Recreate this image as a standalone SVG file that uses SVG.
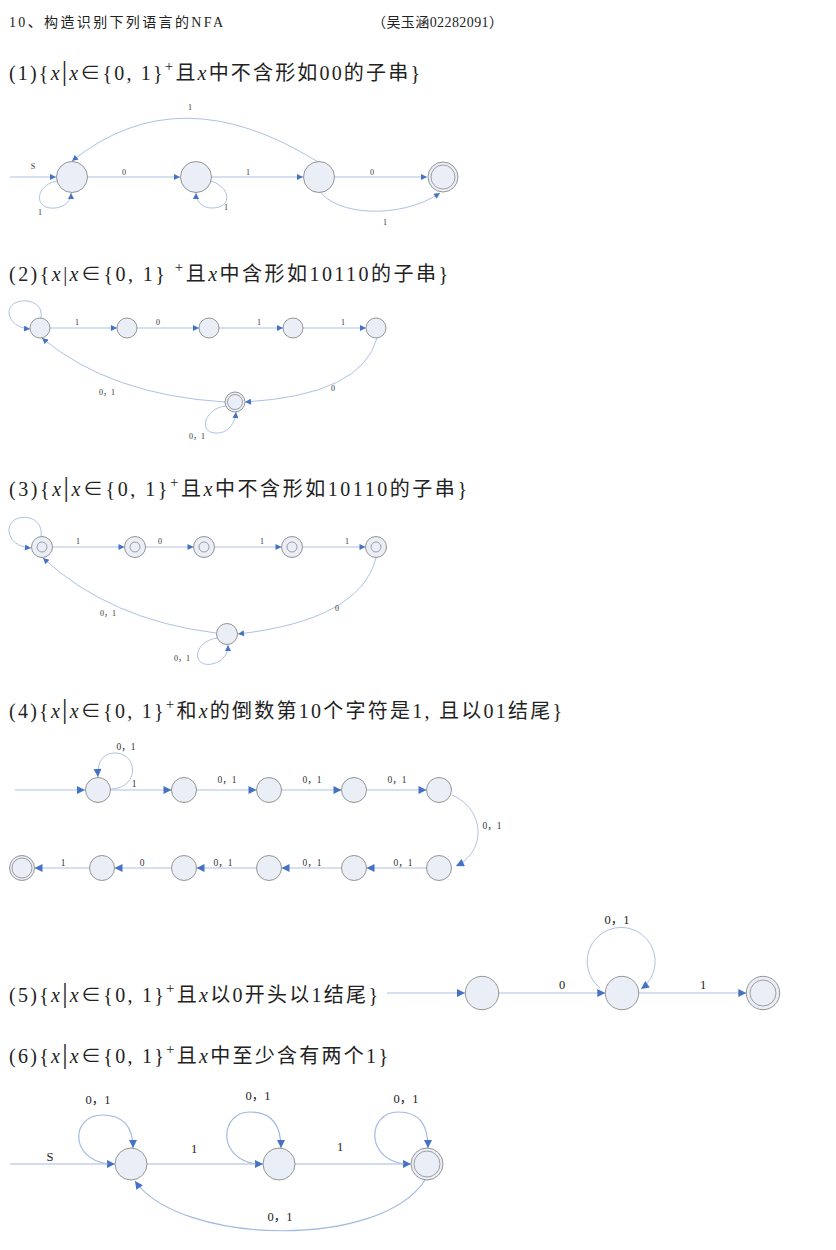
<svg xmlns="http://www.w3.org/2000/svg" width="836" height="1250" viewBox="0 0 836 1250">
<defs>
<style>
.bg{fill:#ffffff}
.n{fill:#e9eef7;stroke:#8a8a8a;stroke-width:0.9}
.ni{fill:none;stroke:#8a8a8a;stroke-width:0.8}
.e{fill:none;stroke:#adc1e4;stroke-width:1}
.e6{fill:none;stroke:#a3b9df;stroke-width:1.2}
.hd{font-family:"Liberation Serif","Noto Sans CJK SC",serif;font-size:14px;fill:#222}
.tt{font-family:"Liberation Serif","Noto Sans CJK SC",serif;font-size:20px;fill:#222}
.it{font-style:italic}
.bar{font-size:27px}
.s{font-family:"Liberation Serif","Noto Sans CJK SC",serif;font-size:8px;fill:#333;text-anchor:middle}
.m{font-family:"Liberation Serif","Noto Sans CJK SC",serif;font-size:9.5px;fill:#333;text-anchor:middle}
.l{font-family:"Liberation Serif","Noto Sans CJK SC",serif;font-size:12.5px;fill:#222;text-anchor:middle}
</style>
<marker id="as" viewBox="0 0 10 10" refX="10" refY="5" markerWidth="7" markerHeight="6" markerUnits="userSpaceOnUse" orient="auto"><path d="M0,0 L10,5 L0,10 z" fill="#4472c4"/></marker>
<marker id="al" viewBox="0 0 10 10" refX="10" refY="5" markerWidth="9" markerHeight="8" markerUnits="userSpaceOnUse" orient="auto"><path d="M0,0 L10,5 L0,10 z" fill="#4472c4"/></marker>
</defs>
<rect class="bg" x="0" y="0" width="836" height="1250"/>

<g id="header">
<text class="hd" x="9" y="27" textLength="214" lengthAdjust="spacing">10、构造识别下列语言的NFA</text>
<text class="hd" x="372" y="27" textLength="131" lengthAdjust="spacing">（吴玉涵02282091）</text>
</g>

<g id="titles">
<text class="tt" x="9" y="80" textLength="411" lengthAdjust="spacing">(1){<tspan class="it">x</tspan><tspan class="bar">|</tspan><tspan class="it">x</tspan>∈{0, 1}<tspan dy="-9" font-size="15">+</tspan><tspan dy="9">且</tspan><tspan class="it">x</tspan>中不含形如00的子串}</text>
<text class="tt" x="9" y="281" textLength="439" lengthAdjust="spacing">(2){<tspan class="it">x</tspan>|<tspan class="it">x</tspan>∈{0, 1} <tspan dy="-9" font-size="15">+</tspan><tspan dy="9">且</tspan><tspan class="it">x</tspan>中含形如10110的子串}</text>
<text class="tt" x="9" y="496" textLength="458" lengthAdjust="spacing">(3){<tspan class="it">x</tspan><tspan class="bar">|</tspan><tspan class="it">x</tspan>∈{0, 1}<tspan dy="-9" font-size="15">+</tspan><tspan dy="9">且</tspan><tspan class="it">x</tspan>中不含形如10110的子串}</text>
<text class="tt" x="9" y="718" textLength="553" lengthAdjust="spacing">(4){<tspan class="it">x</tspan><tspan class="bar">|</tspan><tspan class="it">x</tspan>∈{0, 1}<tspan dy="-9" font-size="15">+</tspan><tspan dy="9">和</tspan><tspan class="it">x</tspan>的倒数第10个字符是1, 且以01结尾}</text>
<text class="tt" x="9" y="1002" textLength="369" lengthAdjust="spacing">(5){<tspan class="it">x</tspan><tspan class="bar">|</tspan><tspan class="it">x</tspan>∈{0, 1}<tspan dy="-9" font-size="15">+</tspan><tspan dy="9">且</tspan><tspan class="it">x</tspan>以0开头以1结尾}</text>
<text class="tt" x="9" y="1063" textLength="379" lengthAdjust="spacing">(6){<tspan class="it">x</tspan><tspan class="bar">|</tspan><tspan class="it">x</tspan>∈{0, 1}<tspan dy="-9" font-size="15">+</tspan><tspan dy="9">且</tspan><tspan class="it">x</tspan>中至少含有两个1}</text>
</g>

<!-- Section 1 -->
<g id="s1-connectors">
<path class="e" marker-end="url(#as)" d="M10 177 L56 177"/>
<path class="e" marker-end="url(#as)" d="M88 177 L180 177"/>
<path class="e" marker-end="url(#as)" d="M212 177 L303 177"/>
<path class="e" marker-end="url(#as)" d="M335 177 L427 177"/>
<path class="e" marker-end="url(#as)" d="M57 181 C35 185, 33 210, 55 208 C66 207, 71 200, 71 193"/>
<path class="e" marker-end="url(#as)" d="M211 181 C232 188, 232 208, 212 208 C202 208, 196 201, 196 193"/>
<path class="e" marker-end="url(#as)" d="M318 162 Q179 75, 72 161"/>
<path class="e" marker-end="url(#as)" d="M320 191 C335 215, 400 220, 440 193"/>
<text class="s" x="33" y="169">S</text>
<text class="s" x="124" y="175">0</text>
<text class="s" x="248" y="175">1</text>
<text class="s" x="372" y="175">0</text>
<text class="s" x="40" y="215">1</text>
<text class="s" x="226" y="210">1</text>
<text class="s" x="190" y="110">1</text>
<text class="s" x="385" y="225">1</text>
</g>
<g id="s1-q0"><circle class="n" cx="72" cy="177" r="15.5"/></g>
<g id="s1-q1"><circle class="n" cx="196" cy="177" r="15.5"/></g>
<g id="s1-q2"><circle class="n" cx="319" cy="177" r="15.5"/></g>
<g id="s1-q3"><circle class="n" cx="443" cy="177" r="15"/><circle class="ni" cx="443" cy="177" r="12"/></g>

<!-- Section 2 -->
<g id="s2-connectors">
<path class="e" marker-end="url(#as)" d="M50 328 L117 328"/>
<path class="e" marker-end="url(#as)" d="M137 328 L199 328"/>
<path class="e" marker-end="url(#as)" d="M219 328 L283 328"/>
<path class="e" marker-end="url(#as)" d="M303 328 L366 328"/>
<path class="e" marker-end="url(#as)" d="M41 318 C45 296, 8 296, 9 313 C10 322, 18 328, 30 329"/>
<path class="e" marker-end="url(#as)" d="M377 338 Q362 395, 245 402"/>
<path class="e" marker-end="url(#as)" d="M225 402 Q110 395, 42 338"/>
<path class="e" marker-end="url(#as)" d="M226 406 C205 408, 198 432, 215 433 C228 434, 235 423, 236 412"/>
<text class="s" x="77" y="325">1</text>
<text class="s" x="158" y="325">0</text>
<text class="s" x="259" y="325">1</text>
<text class="s" x="343" y="325">1</text>
<text class="s" x="333" y="391">0</text>
<text class="s" x="107" y="395">0，1</text>
<text class="s" x="197" y="439">0，1</text>
</g>
<g id="s2-q0"><circle class="n" cx="40" cy="328" r="10"/></g>
<g id="s2-q1"><circle class="n" cx="127" cy="328" r="10"/></g>
<g id="s2-q2"><circle class="n" cx="209" cy="328" r="10"/></g>
<g id="s2-q3"><circle class="n" cx="293" cy="328" r="10"/></g>
<g id="s2-q4"><circle class="n" cx="376" cy="328" r="10"/></g>
<g id="s2-q5"><circle class="n" cx="235" cy="402" r="10"/><circle class="ni" cx="235" cy="402" r="7.5"/></g>

<!-- Section 3 -->
<g id="s3-connectors">
<path class="e" marker-end="url(#as)" d="M52.5 547 L124.5 547"/>
<path class="e" marker-end="url(#as)" d="M145.5 547 L193.5 547"/>
<path class="e" marker-end="url(#as)" d="M214.5 547 L281.5 547"/>
<path class="e" marker-end="url(#as)" d="M302.5 547 L365.5 547"/>
<path class="e" marker-end="url(#as)" d="M41 536 C44 512, 8 512, 9 531 C10 541, 18 547, 31 548"/>
<path class="e" marker-end="url(#as)" d="M376 558 Q360 620, 238 634"/>
<path class="e" marker-end="url(#as)" d="M216 633 Q110 620, 43 558"/>
<path class="e" marker-end="url(#as)" d="M217 638 C192 642, 192 668, 212 664 C222 662, 228 655, 228 645"/>
<text class="s" x="78" y="544">1</text>
<text class="s" x="160" y="544">0</text>
<text class="s" x="262" y="544">1</text>
<text class="s" x="347" y="544">1</text>
<text class="s" x="337" y="611">0</text>
<text class="s" x="108" y="616">0，1</text>
<text class="s" x="182" y="661">0，1</text>
</g>
<g id="s3-q0"><circle class="n" cx="42" cy="547" r="10.5"/><circle class="ni" cx="42" cy="547" r="5"/></g>
<g id="s3-q1"><circle class="n" cx="135" cy="547" r="10.5"/><circle class="ni" cx="135" cy="547" r="5"/></g>
<g id="s3-q2"><circle class="n" cx="204" cy="547" r="10.5"/><circle class="ni" cx="204" cy="547" r="5"/></g>
<g id="s3-q3"><circle class="n" cx="292" cy="547" r="10.5"/><circle class="ni" cx="292" cy="547" r="5"/></g>
<g id="s3-q4"><circle class="n" cx="376" cy="547" r="10.5"/><circle class="ni" cx="376" cy="547" r="5"/></g>
<g id="s3-q5"><circle class="n" cx="227" cy="634" r="10.5"/></g>

<!-- Section 4 -->
<g id="s4-connectors">
<path class="e" marker-end="url(#al)" d="M15 790 L85 790"/>
<path class="e" marker-end="url(#al)" d="M110.5 790 L171.5 790"/>
<path class="e" marker-end="url(#al)" d="M196.5 790 L256.5 790"/>
<path class="e" marker-end="url(#al)" d="M281.5 790 L341.5 790"/>
<path class="e" marker-end="url(#al)" d="M366.5 790 L426.5 790"/>
<path class="e" marker-end="url(#al)" d="M111 789 C140 788, 138 753, 115 753 C103 753, 97 762, 98 777"/>
<path class="e" marker-end="url(#al)" d="M452 795 C486 810, 486 852, 456 866"/>
<path class="e" marker-end="url(#al)" d="M426.5 868 L366.5 868"/>
<path class="e" marker-end="url(#al)" d="M341.5 868 L281.5 868"/>
<path class="e" marker-end="url(#al)" d="M256.5 868 L196.5 868"/>
<path class="e" marker-end="url(#al)" d="M171.5 868 L114.5 868"/>
<path class="e" marker-end="url(#al)" d="M89.5 868 L34.5 868"/>
<text class="m" x="134" y="787">1</text>
<text class="m" x="227" y="783">0，1</text>
<text class="m" x="312" y="783">0，1</text>
<text class="m" x="397" y="783">0，1</text>
<text class="m" x="126" y="750">0，1</text>
<text class="m" x="492" y="829">0，1</text>
<text class="m" x="403" y="866">0，1</text>
<text class="m" x="312" y="866">0，1</text>
<text class="m" x="223" y="866">0，1</text>
<text class="m" x="142" y="866">0</text>
<text class="m" x="63" y="866">1</text>
</g>
<g id="s4-q0"><circle class="n" cx="98" cy="790" r="12.5"/></g>
<g id="s4-q1"><circle class="n" cx="184" cy="790" r="12.5"/></g>
<g id="s4-q2"><circle class="n" cx="269" cy="790" r="12.5"/></g>
<g id="s4-q3"><circle class="n" cx="354" cy="790" r="12.5"/></g>
<g id="s4-q4"><circle class="n" cx="439" cy="790" r="12.5"/></g>
<g id="s4-q5"><circle class="n" cx="439" cy="868" r="12.5"/></g>
<g id="s4-q6"><circle class="n" cx="354" cy="868" r="12.5"/></g>
<g id="s4-q7"><circle class="n" cx="269" cy="868" r="12.5"/></g>
<g id="s4-q8"><circle class="n" cx="184" cy="868" r="12.5"/></g>
<g id="s4-q9"><circle class="n" cx="102" cy="868" r="12.5"/></g>
<g id="s4-q10"><circle class="n" cx="22" cy="868" r="12.5"/><circle class="ni" cx="22" cy="868" r="10"/></g>

<!-- Section 5 -->
<g id="s5-connectors">
<path class="e" marker-end="url(#al)" d="M387 993 L465 993"/>
<path class="e" marker-end="url(#al)" d="M498.7 993 L605.3 993"/>
<path class="e" marker-end="url(#al)" d="M600 988 A34 34 0 1 1 641 989"/>
<path class="e" marker-end="url(#al)" d="M638.7 993 L746.3 993"/>
<text class="l" x="562" y="989">0</text>
<text class="l" x="617" y="924">0，1</text>
<text class="l" x="703" y="989">1</text>
</g>
<g id="s5-q0"><circle class="n" cx="482" cy="993" r="16.7"/></g>
<g id="s5-q1"><circle class="n" cx="622" cy="993" r="16.7"/></g>
<g id="s5-q2"><circle class="n" cx="763" cy="993" r="16.7"/><circle class="ni" cx="763" cy="993" r="13"/></g>

<!-- Section 6 -->
<g id="s6-connectors">
<path class="e6" marker-end="url(#al)" d="M10 1164 L115 1164"/>
<path class="e6" marker-end="url(#al)" d="M147 1164 L263 1164"/>
<path class="e6" marker-end="url(#al)" d="M295 1164 L411 1164"/>
<path class="e6" marker-end="url(#al)" d="M108 1164 C68 1158, 72 1115, 102 1115 C124 1115, 133 1128, 133 1148"/>
<path class="e6" marker-end="url(#al)" d="M256 1164 C216 1158, 220 1112, 250 1112 C272 1112, 281 1125, 281 1148"/>
<path class="e6" marker-end="url(#al)" d="M404 1164 C364 1158, 368 1112, 398 1112 C420 1112, 428 1125, 428 1148"/>
<path class="e6" marker-end="url(#al)" d="M425 1180 C380 1250, 180 1245, 135 1181"/>
<text class="l" x="50" y="1161">S</text>
<text class="l" x="194" y="1153">1</text>
<text class="l" x="340" y="1151">1</text>
<text class="l" x="98" y="1104">0，1</text>
<text class="l" x="258" y="1100">0，1</text>
<text class="l" x="406" y="1103">0，1</text>
<text class="l" x="280" y="1221">0，1</text>
</g>
<g id="s6-q0"><circle class="n" cx="131" cy="1164" r="16"/></g>
<g id="s6-q1"><circle class="n" cx="279" cy="1164" r="16"/></g>
<g id="s6-q2"><circle class="n" cx="427" cy="1164" r="16"/><circle class="ni" cx="427" cy="1164" r="13"/></g>
</svg>
